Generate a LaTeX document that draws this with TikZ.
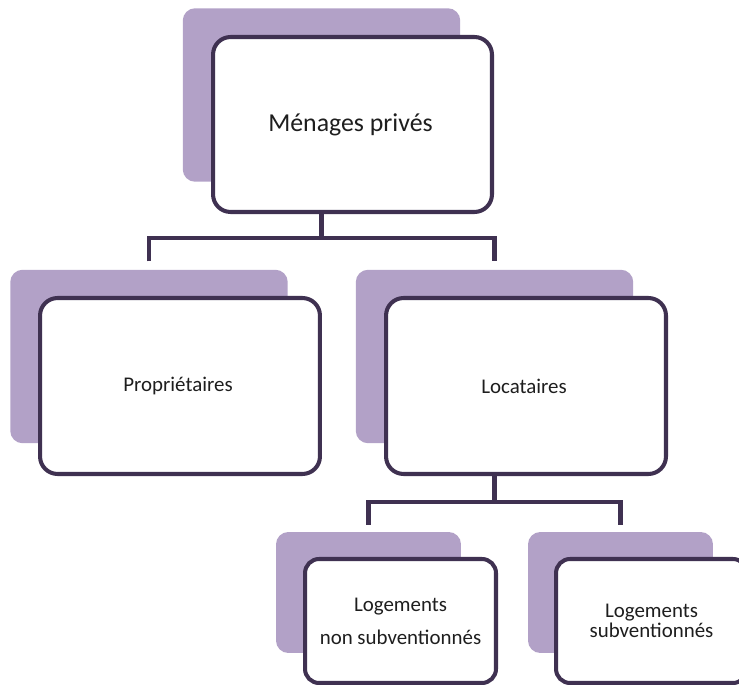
\documentclass[tikz,border=0pt]{standalone}
\usepackage{fontspec}
\setmainfont{Carlito}
\usepackage{xcolor}
\usepackage{tikz}
\usetikzlibrary{positioning, calc}
\definecolor{menagesshade}{RGB}{178, 161, 199}
\definecolor{menagesborder}{RGB}{63, 49, 81}
\definecolor{menagestext}{RGB}{30, 30, 30}

\tikzset{
    backcard/.style={fill=menagesshade, rounded corners=7pt, inner sep=0pt},
    frontcard/.style={fill=white, draw=menagesborder, line width=2.3pt, rounded corners=10pt,
                      align=center, inner sep=0pt, text=menagestext},
    bigcard/.style={minimum width=5.58cm, minimum height=3.5cm},
    bigback/.style={minimum width=5.55cm, minimum height=3.47cm},
    smallcard/.style={minimum width=3.82cm, minimum height=2.48cm, rounded corners=8pt},
    smallback/.style={minimum width=3.7cm, minimum height=2.42cm},
    link/.style={draw=menagesborder, line width=2.3pt}
}

\begin{document}
\begin{tikzpicture}[x=0.02cm, y=-0.02cm]
            \useasboundingbox (0,0) rectangle (739,685);
            \clip (0,0) rectangle (739,685);

            % top level
            \node[backcard, bigback] (menagesbg) at (321.5,95) {};
            \node[frontcard, bigcard] (menages) at (352.5,124.5) {
                {\fontsize{14.7}{17}\selectfont M\'enages priv\'es}
            };

            % second level
            \node[backcard, bigback] (proprbg) at (149,356.5) {};
            \node[frontcard, bigcard, minimum width=5.6cm, minimum height=3.52cm] (propr) at (180,386) {
                {\fontsize{11.9}{14}\selectfont Propri\'etaires}
            };
            \node[backcard, bigback] (locbg) at (494.5,356.5) {};
            \node[frontcard, bigcard, minimum width=5.6cm, minimum height=3.52cm] (loc) at (526,386) {
                {\fontsize{11.9}{14}\selectfont Locataires}
            };

            % third level
            \node[backcard, smallback] (nonsubbg) at (368.5,592.5) {};
            \node[frontcard, smallcard, font=\fontsize{11.9}{18.8}\selectfont] (nonsub) at (400.5,621) {
                Logements\\non subventionn\'es
            };
            \node[backcard, smallback] (subbg) at (620.5,592.5) {};
            \node[frontcard, smallcard, font=\fontsize{11.9}{11.6}\selectfont] (sub) at (651.5,621) {
                Logements\\subventionn\'es
            };

            % connectors
            \draw[link] (menagesbg.center |- menages.south) -- ++(0,24) coordinate (split1);
            \draw[link] ($(proprbg.north)+(0,-8)$) |- (split1) -| ($(locbg.north)+(0,-8)$);
            \draw[link] (locbg.center |- loc.south) -- ++(0,26) coordinate (split2);
            \draw[link] ($(nonsubbg.north)+(0,-7)$) |- (split2) -| ($(subbg.north)+(0,-7)$);
        \end{tikzpicture}
\end{document}
